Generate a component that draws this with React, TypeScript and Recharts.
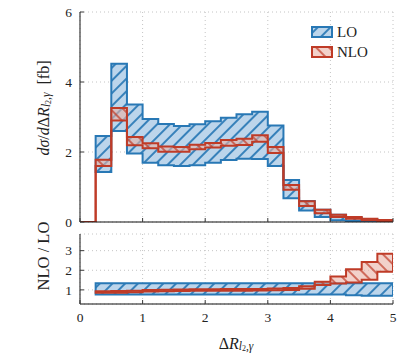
import React from 'react';
import { ComposedChart, Area, XAxis, YAxis, CartesianGrid } from 'recharts';

const binStarts = [0.25, 0.5, 0.75, 1, 1.25, 1.5, 1.75, 2, 2.25, 2.5, 2.75, 3, 3.25, 3.5, 3.75, 4, 4.25, 4.5, 4.75];
const xMax = 5;

const loLow = [1.43, 2.6, 1.96, 1.69, 1.62, 1.6, 1.62, 1.69, 1.77, 1.81, 1.8, 1.6, 0.68, 0.33, 0.14, 0.05, 0.03, 0.015, 0.005];
const loHigh = [2.46, 4.52, 3.36, 2.94, 2.8, 2.74, 2.79, 2.88, 2.98, 3.08, 3.15, 2.76, 1.2, 0.6, 0.35, 0.21, 0.13, 0.08, 0.04];
const nloLow = [1.6, 2.9, 2.19, 2.11, 2.01, 2.01, 2.08, 2.13, 2.18, 2.2, 2.29, 1.97, 0.92, 0.46, 0.25, 0.14, 0.09, 0.05, 0.03];
const nloHigh = [1.78, 3.26, 2.43, 2.25, 2.16, 2.14, 2.21, 2.26, 2.34, 2.38, 2.48, 2.14, 1.06, 0.59, 0.35, 0.21, 0.14, 0.09, 0.06];

const ratioLoLow = [0.76, 0.76, 0.76, 0.76, 0.76, 0.76, 0.76, 0.76, 0.76, 0.76, 0.76, 0.76, 0.76, 0.76, 0.76, 0.76, 0.72, 0.7, 0.7];
const ratioLoHigh = [1.34, 1.34, 1.34, 1.34, 1.34, 1.34, 1.34, 1.34, 1.34, 1.34, 1.34, 1.34, 1.34, 1.34, 1.34, 1.34, 1.34, 1.34, 1.34];
const ratioNloLow = [0.85, 0.86, 0.88, 0.92, 0.93, 0.94, 0.95, 0.95, 0.96, 0.96, 0.97, 0.98, 1.0, 1.06, 1.25, 1.32, 1.38, 1.52, 1.92];
const ratioNloHigh = [0.93, 0.94, 0.96, 1.0, 1.01, 1.02, 1.03, 1.03, 1.04, 1.04, 1.05, 1.07, 1.1, 1.18, 1.42, 1.68, 2.05, 2.42, 2.84];

const xTicks = [0, 1, 2, 3, 4, 5];
const topYTicks = [0, 2, 4, 6];
const ratioYTicks = [1, 2, 3];
const legendLabels = ['LO', 'NLO'];

type Row = { x: number; a: [number, number] | null; b: [number, number] | null };

function buildRows(aL: number[], aH: number[], bL: number[], bH: number[], leadZeroB: boolean): Row[] {
  const rows: Row[] = [];
  const n = binStarts.length;
  const midA0 = (aL[0] + aH[0]) / 2;
  const midB0 = (bL[0] + bH[0]) / 2;
  if (leadZeroB) {
    rows.push({ x: 0, a: null, b: [0, 0] });
    rows.push({ x: binStarts[0], a: [midA0, midA0], b: [0, 0] });
  } else {
    rows.push({ x: binStarts[0], a: [midA0, midA0], b: [midB0, midB0] });
  }
  for (let i = 0; i < n; i++) {
    rows.push({ x: binStarts[i], a: [aL[i], aH[i]], b: [bL[i], bH[i]] });
  }
  rows.push({ x: xMax, a: [aL[n - 1], aH[n - 1]], b: [bL[n - 1], bH[n - 1]] });
  const midA = (aL[n - 1] + aH[n - 1]) / 2;
  const midB = (bL[n - 1] + bH[n - 1]) / 2;
  rows.push({ x: xMax, a: [midA, midA], b: [midB, midB] });
  return rows;
}

const topRows = buildRows(loLow, loHigh, nloLow, nloHigh, true);
const ratioRows = buildRows(ratioLoLow, ratioLoHigh, ratioNloLow, ratioNloHigh, false);

const BLUE = '#2878b5';
const BLUE_FILL = '#bcd5eb';
const RED = '#bf3b27';
const RED_FILL = '#eab2a6';
const FONT = 'Liberation Serif, DejaVu Serif, serif';
const AX = '#3a3a3a';

const tickStyle = { fill: '#222', fontSize: 13.5, fontFamily: FONT };

const Patterns = () => (
  <defs>
    <pattern id="hatchLO" patternUnits="userSpaceOnUse" width="9" height="9" patternTransform="rotate(45)">
      <rect width="9" height="9" fill={BLUE_FILL} />
      <line x1="1" y1="-1" x2="1" y2="10" stroke={BLUE} strokeWidth="1.8" />
    </pattern>
    <pattern id="hatchNLO" patternUnits="userSpaceOnUse" width="9" height="9" patternTransform="rotate(-45)">
      <rect width="9" height="9" fill={RED_FILL} fillOpacity="0.6" />
      <line x1="1" y1="-1" x2="1" y2="10" stroke={RED} strokeWidth="1.6" strokeOpacity="0.85" />
    </pattern>
  </defs>
);

const frameAxes = (yTicks: number[], yDomain: [number, number]) => [
  <XAxis key="xt" xAxisId="top" orientation="top" type="number" domain={[0, 5]} ticks={xTicks} allowDataOverflow height={0} interval={0}
    axisLine={{ stroke: AX, strokeWidth: 1.2 }} tickLine={{ stroke: AX }} tickSize={-4} tickFormatter={() => ''} />,
  <YAxis key="yr" yAxisId="right" orientation="right" type="number" domain={yDomain} ticks={yTicks} allowDataOverflow width={0} interval={0}
    axisLine={{ stroke: AX, strokeWidth: 1.2 }} tickLine={{ stroke: AX }} tickSize={-4} tickFormatter={() => ''} />,
];

export default function App() {
  return (
    <div style={{ position: 'absolute', left: 0, top: 0, width: 408, height: 363, background: '#fff' }}>
      <div style={{ position: 'absolute', left: 0, top: 0 }}>
        <ComposedChart width={408} height={230} data={topRows} margin={{ top: 12, right: 15, left: 40, bottom: 0 }}>
          <Patterns />
          <CartesianGrid stroke="#c4c4c4" strokeDasharray="1 3" />
          <XAxis dataKey="x" type="number" domain={[0, 5]} ticks={xTicks} allowDataOverflow height={8} interval={0}
            axisLine={{ stroke: '#111', strokeWidth: 1.2 }} tickLine={{ stroke: AX }} tickSize={-4} tickFormatter={() => ''} />
          <YAxis type="number" domain={[0, 6]} ticks={topYTicks} allowDataOverflow width={40} interval={0}
            axisLine={{ stroke: AX, strokeWidth: 1.2 }} tickLine={{ stroke: AX }} tickSize={-4} tickMargin={12} tick={tickStyle} />
          {frameAxes(topYTicks, [0, 6])}
          <Area dataKey="a" name="LO" type="stepAfter" fill="url(#hatchLO)" fillOpacity={1} stroke={BLUE} strokeWidth={2}
            isAnimationActive={false} dot={false} activeDot={false} />
          <Area dataKey="b" name="NLO" type="stepAfter" fill="url(#hatchNLO)" fillOpacity={1} stroke={RED} strokeWidth={2}
            isAnimationActive={false} dot={false} activeDot={false} />
        </ComposedChart>
      </div>
      <div style={{ position: 'absolute', left: 0, top: 0 }}>
        <ComposedChart width={408} height={363} data={ratioRows} margin={{ top: 234, right: 15, left: 40, bottom: 0 }}>
          <CartesianGrid stroke="#c4c4c4" strokeDasharray="1 3" />
          <XAxis dataKey="x" type="number" domain={[0, 5]} ticks={xTicks} allowDataOverflow height={59} interval={0}
            axisLine={{ stroke: '#111', strokeWidth: 1.2 }} tickLine={{ stroke: AX }} tickSize={-4} tickMargin={12} tick={tickStyle} />
          <YAxis type="number" domain={[0.28, 3.85]} ticks={ratioYTicks} allowDataOverflow width={40} interval={0}
            axisLine={{ stroke: AX, strokeWidth: 1.2 }} tickLine={{ stroke: AX }} tickSize={-4} tickMargin={12} tick={tickStyle} />
          {frameAxes(ratioYTicks, [0.28, 3.85])}
          <Area dataKey="a" name="LO" type="stepAfter" fill="url(#hatchLO)" fillOpacity={1} stroke={BLUE} strokeWidth={2}
            isAnimationActive={false} dot={false} activeDot={false} />
          <Area dataKey="b" name="NLO" type="stepAfter" fill="url(#hatchNLO)" fillOpacity={1} stroke={RED} strokeWidth={2}
            isAnimationActive={false} dot={false} activeDot={false} />
        </ComposedChart>
      </div>
      <svg width={408} height={363} style={{ position: 'absolute', left: 0, top: 0, pointerEvents: 'none' }}>
        <rect x={312} y={27} width={20} height={10} fill="url(#hatchLO)" stroke={BLUE} strokeWidth={2} />
        <text x={337} y={32} dominantBaseline="central" fontFamily={FONT} fontSize={15} fill="#222">{legendLabels[0]}</text>
        <rect x={312} y={47} width={20} height={10} fill="url(#hatchNLO)" stroke={RED} strokeWidth={2} />
        <text x={337} y={52} dominantBaseline="central" fontFamily={FONT} fontSize={15} fill="#222">{legendLabels[1]}</text>
        <text transform="translate(43,108) rotate(-90)" textAnchor="middle" dominantBaseline="central" fontFamily={FONT} fontSize={16} fill="#222">
          <tspan fontStyle="italic">dσ</tspan>
          <tspan>/</tspan>
          <tspan fontStyle="italic">d</tspan>
          <tspan>Δ</tspan>
          <tspan fontStyle="italic">R</tspan>
          <tspan fontStyle="italic" fontSize={11.5} dy={3}>l</tspan>
          <tspan fontSize={8} dy={2}>2</tspan>
          <tspan fontSize={11.5} dy={-2}>,</tspan>
          <tspan fontStyle="italic" fontSize={11.5}>γ</tspan>
          <tspan fontSize={16} dy={-3}>{'\u00a0\u00a0[fb]'}</tspan>
        </text>
        <text transform="translate(43,256) rotate(-90)" textAnchor="middle" dominantBaseline="central" fontFamily={FONT} fontSize={16.5} fill="#222">
          NLO / LO
        </text>
        <text x={236} y={343} textAnchor="middle" dominantBaseline="central" fontFamily={FONT} fontSize={16} fill="#222">
          <tspan>Δ</tspan>
          <tspan fontStyle="italic">R</tspan>
          <tspan fontStyle="italic" fontSize={11.5} dy={3}>l</tspan>
          <tspan fontSize={8} dy={2}>2</tspan>
          <tspan fontSize={11.5} dy={-2}>,</tspan>
          <tspan fontStyle="italic" fontSize={11.5}>γ</tspan>
        </text>
      </svg>
    </div>
  );
}
